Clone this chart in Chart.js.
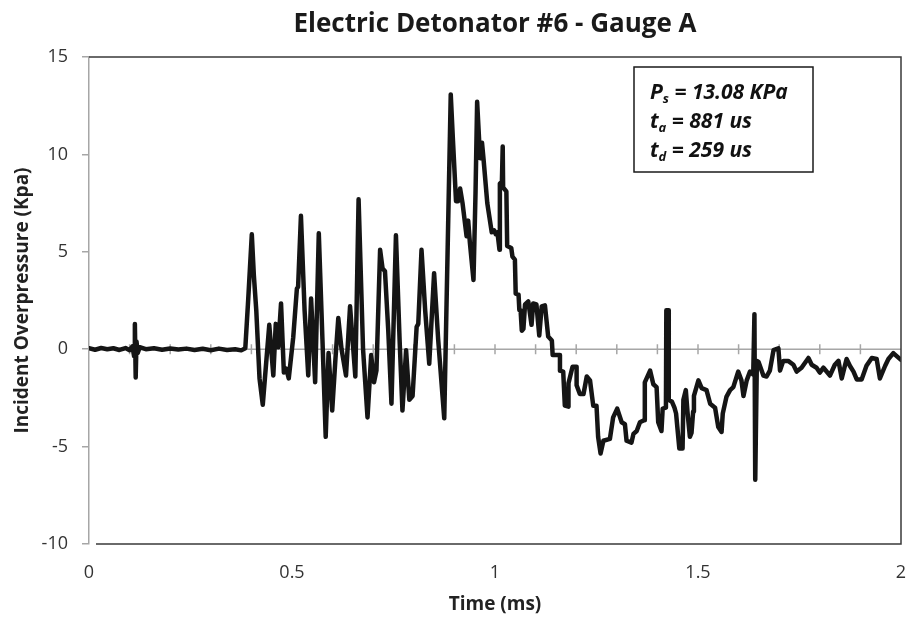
<!DOCTYPE html>
<html>
<head>
<meta charset="utf-8">
<title>Electric Detonator #6 - Gauge A</title>
<script src="https://cdn.jsdelivr.net/npm/chart.js@4.4.1/dist/chart.umd.min.js"></script>
<style>
  html, body { margin: 0; padding: 0; background: #fff; overflow: hidden; }
  canvas { display: block; }
</style>
</head>
<body>
<canvas id="gauge" width="907" height="620"></canvas>
<script>
// Gauge A trace: time (ms) and incident overpressure (kPa), same order
const timeMs = [
  // quiet baseline before arrival
  0, 0.015, 0.03, 0.045, 0.06, 0.075, 0.09, 0.1, 0.107, 0.111,
  0.113, 0.115, 0.117, 0.12, 0.125, 0.14, 0.16, 0.18, 0.2, 0.22,
  0.24, 0.26, 0.28, 0.3, 0.32, 0.34, 0.36, 0.375, 0.385,
  // precursor oscillations
  0.392, 0.401, 0.406, 0.412, 0.42, 0.428, 0.436, 0.444, 0.454, 0.46,
  0.466, 0.473, 0.48, 0.486, 0.492, 0.503, 0.512, 0.515, 0.522, 0.531,
  0.54, 0.547, 0.557, 0.566, 0.575, 0.583, 0.59, 0.599, 0.607, 0.614,
  0.622, 0.633, 0.643, 0.656, 0.664, 0.675, 0.686, 0.695, 0.702, 0.708,
  0.717, 0.723, 0.729, 0.737, 0.745, 0.756, 0.765, 0.772, 0.781, 0.789,
  0.797, 0.807, 0.811, 0.819, 0.828, 0.838, 0.85, 0.86, 0.875,
  // main pulse
  0.891, 0.896, 0.904, 0.909, 0.914, 0.92, 0.93, 0.934, 0.938, 0.947,
  0.952, 0.956, 0.961, 0.964, 0.968, 0.972, 0.981, 0.992, 0.998, 1.002,
  1.006, 1.011, 1.012, 1.017, 1.019, 1.02, 1.028, 1.03, 1.04, 1.043,
  1.049, 1.051, 1.058, 1.06, 1.063, 1.066,
  // stepped decay into the negative phase
  1.07, 1.074, 1.082, 1.09, 1.094, 1.102, 1.109, 1.115, 1.123, 1.131,
  1.14, 1.142, 1.16, 1.16, 1.168, 1.172, 1.181, 1.181, 1.191, 1.201,
  1.201, 1.209, 1.218, 1.226, 1.234, 1.242, 1.25, 1.254, 1.26, 1.267,
  1.283, 1.291, 1.301, 1.312, 1.32, 1.324, 1.336, 1.341, 1.349, 1.357,
  1.367, 1.369, 1.382, 1.39, 1.398, 1.402, 1.41, 1.413, 1.421,
  // spikes and recovery
  1.422, 1.427, 1.428, 1.436, 1.442, 1.446, 1.454, 1.462, 1.464, 1.47,
  1.474, 1.48, 1.484, 1.488, 1.49, 1.501, 1.509, 1.521, 1.53, 1.542,
  1.55, 1.558, 1.561, 1.57, 1.579, 1.587, 1.599, 1.607, 1.612, 1.62,
  1.628, 1.636, 1.639, 1.641, 1.645, 1.649, 1.661, 1.669, 1.677, 1.686,
  1.698, 1.702, 1.71, 1.722, 1.735, 1.743, 1.755, 1.772, 1.78, 1.792,
  1.8, 1.809, 1.825, 1.837, 1.846, 1.854, 1.866, 1.874, 1.883, 1.891,
  1.903, 1.915, 1.928, 1.94, 1.948, 1.961, 1.969, 1.981, 2.0
];

const pressureKpa = [
  0.05, -0.03, 0.06, 0.0, 0.05, -0.04, 0.06, -0.05, 0.15, -0.35,
  1.3, -1.45, 0.4, -0.2, 0.1, 0.0, 0.05, -0.03, 0.04, -0.02,
  0.03, -0.04, 0.02, -0.05, 0.03, -0.04, 0.0, -0.06, 0.05,

  2.5, 5.9, 3.8, 2.0, -1.5, -2.85, -0.8, 1.25, -1.35, 1.3,
  0.1, 2.35, -1.2, -1.0, -1.5, 0.6, 3.1, 3.2, 6.85, 2.0,
  -1.35, 2.6, -1.7, 5.95, 0.5, -4.5, -0.2, -3.15, -0.5, 1.6,
  0.0, -1.35, 2.2, -1.4, 7.7, 0.0, -3.5, -0.3, -1.7, -1.1,
  5.1, 4.15, 4.0, 1.0, -2.8, 5.85, 0.5, -3.15, -0.05, -2.6,
  -2.4, 1.15, 1.3, 5.1, 2.0, -0.75, 3.9, 0.5, -3.55,

  13.08, 10.9, 7.6, 7.6, 8.25, 7.5, 5.8, 6.6, 5.5, 3.55,
  8.0, 12.7, 10.7, 9.8, 10.6, 9.7, 7.5, 6.0, 6.1, 5.9,
  6.0, 5.1, 8.5, 8.6, 10.4, 8.3, 8.1, 5.3, 5.2, 4.75,
  4.6, 2.85, 2.8, 2.0, 2.0, 0.95,

  1.05, 2.3, 2.45, 1.25, 2.35, 2.3, 0.7, 2.2, 2.25, 0.65,
  0.45, -0.3, -0.3, -1.1, -1.15, -2.9, -2.95, -1.75, -0.9, -0.9,
  -1.85, -2.3, -2.3, -1.4, -1.6, -2.9, -2.9, -4.5, -5.35, -4.7,
  -4.6, -3.5, -3.05, -3.75, -3.85, -4.7, -4.8, -4.35, -4.2, -3.75,
  -3.65, -1.7, -1.1, -1.8, -1.95, -3.75, -4.2, -3.05, -3.0,

  2.0, 2.0, -2.6, -2.7, -3.0, -3.3, -5.1, -5.1, -2.6, -2.1,
  -3.2, -4.5, -4.3, -3.2, -2.4, -1.6, -2.0, -2.1, -2.8, -3.0,
  -4.0, -4.25, -3.3, -2.45, -2.1, -1.95, -1.15, -1.6, -2.4, -1.6,
  -1.15, -1.3, 1.8, -6.7, -0.6, -0.65, -1.35, -1.4, -1.1, -0.05,
  0.05, -1.1, -0.6, -0.6, -0.8, -1.15, -0.95, -0.45, -0.8, -0.95,
  -1.2, -0.95, -1.35, -0.8, -0.6, -1.5, -0.5, -0.85, -1.15, -1.55,
  -1.55, -0.85, -0.45, -0.5, -1.5, -0.85, -0.5, -0.2, -0.55
];

const xTicks = [0, 0.5, 1, 1.5, 2];
const yTicks = [-10, -5, 0, 5, 10, 15];
const minorStep = 0.1;

// peak pressure, arrival time, positive duration
const resultLines = [
  { sym: 'P', sub: 's', rest: ' = 13.08 KPa' },
  { sym: 't', sub: 'a', rest: ' = 881 us' },
  { sym: 't', sub: 'd', rest: ' = 259 us' }
];

const FONT = '"Open Sans", "Noto Sans", sans-serif';

// gray time axis through zero with a tick every 0.1 ms
const zeroAxis = {
  id: 'zeroAxis',
  beforeDatasetsDraw(chart) {
    const { ctx, chartArea: a, scales: { x, y } } = chart;
    const y0 = y.getPixelForValue(0);
    ctx.save();
    ctx.strokeStyle = '#a6a6a6';
    ctx.lineWidth = 1.5;
    ctx.beginPath();
    ctx.moveTo(a.left, y0);
    ctx.lineTo(a.right, y0);
    const n = Math.round((x.max - x.min) / minorStep);
    for (let i = 1; i < n; i++) {
      const px = x.getPixelForValue(x.min + i * minorStep);
      ctx.moveTo(px, y0 - 5);
      ctx.lineTo(px, y0 + 5);
    }
    ctx.stroke();
    ctx.restore();
  }
};

// dark frame on the top, right and bottom of the plot area
const plotFrame = {
  id: 'plotFrame',
  afterDatasetsDraw(chart) {
    const { ctx, chartArea: a } = chart;
    ctx.save();
    ctx.strokeStyle = '#3a3a3a';
    ctx.lineWidth = 1.5;
    ctx.beginPath();
    ctx.moveTo(a.left, a.top);
    ctx.lineTo(a.right, a.top);
    ctx.lineTo(a.right, a.bottom);
    ctx.lineTo(a.left + 7, a.bottom);
    ctx.stroke();
    ctx.restore();
  }
};

// boxed summary of the measured values
const resultsBox = {
  id: 'resultsBox',
  afterDraw(chart) {
    const { ctx, chartArea: a } = chart;
    const w = 179, h = 105;
    const left = a.right - 267, top = a.top + 10;
    ctx.save();
    ctx.fillStyle = '#fff';
    ctx.fillRect(left, top, w, h);
    ctx.strokeStyle = '#1a1a1a';
    ctx.lineWidth = 1.5;
    ctx.strokeRect(left, top, w, h);
    ctx.fillStyle = '#111';
    ctx.textBaseline = 'alphabetic';
    resultLines.forEach((ln, i) => {
      let x = left + 16;
      const base = top + 32 + i * 29;
      ctx.font = 'italic bold 21px ' + FONT;
      ctx.fillText(ln.sym, x, base);
      x += ctx.measureText(ln.sym).width;
      ctx.font = 'italic bold 13px ' + FONT;
      ctx.fillText(ln.sub, x, base + 4);
      x += ctx.measureText(ln.sub).width;
      ctx.font = 'italic bold 21px ' + FONT;
      ctx.fillText(ln.rest, x, base);
    });
    ctx.restore();
  }
};

new Chart(document.getElementById('gauge'), {
  type: 'scatter',
  data: {
    datasets: [{
      label: 'Gauge A',
      data: timeMs.map((t, i) => ({ x: t, y: pressureKpa[i] })),
      showLine: true,
      borderColor: '#151515',
      borderWidth: 4.5,
      borderJoinStyle: 'round',
      borderCapStyle: 'round',
      pointRadius: 0,
      tension: 0
    }]
  },
  options: {
    responsive: false,
    animation: false,
    devicePixelRatio: 1,
    layout: { padding: { left: 0, right: 6, top: 0, bottom: 0 } },
    plugins: {
      legend: { display: false },
      tooltip: { enabled: false },
      title: {
        display: true,
        text: 'Electric Detonator #6 - Gauge A',
        color: '#1a1a1a',
        fullSize: false,
        font: { family: FONT, size: 26, weight: 'bold' },
        padding: { top: 8.5, bottom: 17.3 }
      }
    },
    scales: {
      x: {
        type: 'linear',
        min: 0,
        max: 2,
        afterBuildTicks: s => { s.ticks = xTicks.map(v => ({ value: v })); },
        afterFit: s => {
          // keep the plot flush with the layout padding; end labels fit anyway
          s.height = 76;
          s.paddingLeft = 0;
          s.paddingRight = 0;
        },
        grid: { display: false, drawTicks: false },
        border: { display: false },
        ticks: {
          padding: 18,
          color: '#333',
          maxRotation: 0,
          font: { family: FONT, size: 18 },
          callback: v => String(v)
        },
        title: {
          display: true,
          text: 'Time (ms)',
          color: '#222',
          font: { family: FONT, size: 19, weight: 'bold' },
          padding: { top: 0, bottom: 4 }
        }
      },
      y: {
        min: -10,
        max: 15,
        afterBuildTicks: s => { s.ticks = yTicks.map(v => ({ value: v })); },
        afterFit: s => { s.width = 89; },
        grid: { drawOnChartArea: false, drawTicks: true, tickLength: 7, color: '#a6a6a6', lineWidth: 1.5 },
        border: { display: true, color: '#a6a6a6', width: 1.5 },
        ticks: {
          padding: 14,
          color: '#333',
          font: { family: FONT, size: 18 },
          callback: v => String(v)
        },
        title: {
          display: true,
          text: 'Incident Overpressure (Kpa)',
          color: '#222',
          font: { family: FONT, size: 19, weight: 'bold' },
          padding: { top: 11, bottom: 0 }
        }
      }
    }
  },
  plugins: [zeroAxis, plotFrame, resultsBox]
});
</script>
</body>
</html>
